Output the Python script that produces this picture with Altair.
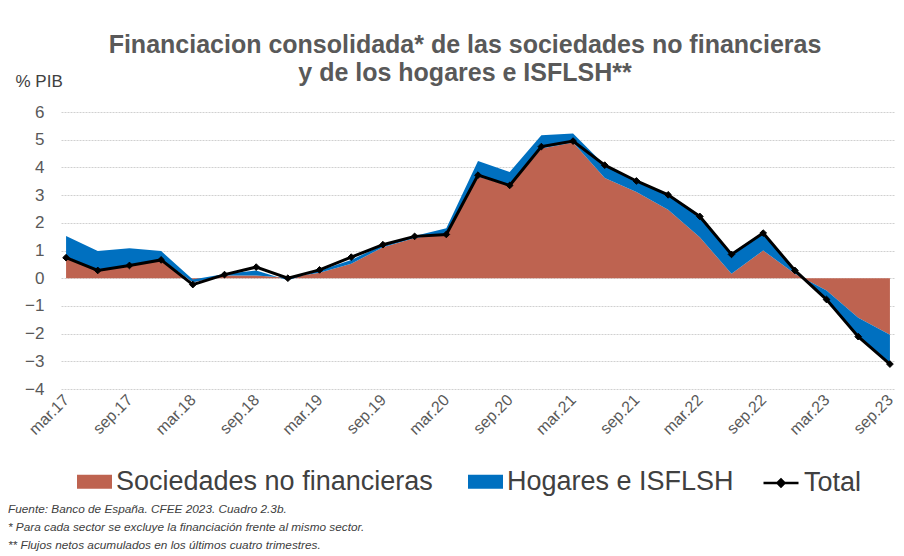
import json
import altair as alt
import pandas as pd

# Quarters (only mar./sep. are labelled on the axis)
quarters = [
    "mar.17", "jun.17", "sep.17", "dic.17",
    "mar.18", "jun.18", "sep.18", "dic.18",
    "mar.19", "jun.19", "sep.19", "dic.19",
    "mar.20", "jun.20", "sep.20", "dic.20",
    "mar.21", "jun.21", "sep.21", "dic.21",
    "mar.22", "jun.22", "sep.22", "dic.22",
    "mar.23", "jun.23", "sep.23",
]

# % PIB, flujos netos acumulados en cuatro trimestres
sociedades = [
    0.78, 0.30, 0.48, 0.68,
    -0.15, 0.10, 0.10, 0.02,
    0.20, 0.52, 1.12, 1.45,
    1.60, 3.67, 3.33, 4.68,
    4.90, 3.62, 3.11, 2.47,
    1.48, 0.16, 1.00, 0.16,
    -0.44, -1.43, -2.04,
]
hogares = [
    0.74, 0.68, 0.60, 0.30,
    0.10, 0.05, 0.18, -0.09,
    0.08, 0.14, 0.08, 0.07,
    0.20, 0.56, 0.50, 0.48,
    0.32, 0.46, 0.42, 0.57,
    0.79, 0.74, 0.66, 0.14,
    -0.31, -0.65, -1.01,
]
total = [
    0.74, 0.28, 0.46, 0.66,
    -0.23, 0.13, 0.40, 0.00,
    0.30, 0.76, 1.21, 1.51,
    1.58, 3.72, 3.35, 4.75,
    4.95, 4.08, 3.51, 3.01,
    2.23, 0.86, 1.63, 0.28,
    -0.77, -2.11, -3.10,
]

series_names = ["Sociedades no financieras", "Hogares e ISFLSH"]
series_colors = ["#BE6350", "#0070C0"]
title_lines = [
    "Financiacion consolidada* de las sociedades no financieras",
    "y de los hogares e ISFLSH**",
]
footnotes = [
    "Fuente: Banco de España. CFEE 2023. Cuadro 2.3b.",
    "* Para cada sector se excluye la financiación frente al mismo sector.",
    "** Flujos netos acumulados en los últimos cuatro trimestres.",
]

df = pd.DataFrame({
    "idx": list(range(len(quarters))),
    "trimestre": quarters,
    "soc": sociedades,
    "hog": hogares,
    "total": total,
})

FONT = "Liberation Sans"
label_expr = f"{json.dumps(quarters)}[round(datum.value)]"

x_enc = alt.X(
    "idx:Q",
    scale=alt.Scale(domain=[-0.16, len(quarters) - 1 + 0.16], nice=False, zero=False),
    axis=alt.Axis(
        values=list(range(0, len(quarters), 2)),
        labelExpr=label_expr,
        labelAngle=-45,
        labelAlign="right",
        labelBaseline="middle",
        labelFontSize=16,
        labelPadding=8,
        grid=False,
        domain=False,
        ticks=False,
        title=None,
    ),
)

y_axis = alt.Axis(
    values=list(range(-4, 7)),
    labelFontSize=17,
    labelPadding=17,
    domain=False,
    ticks=False,
    grid=True,
    gridColor="#D0D0D0",
    gridDash=[2, 1],
    gridWidth=1,
    title="% PIB",
    titleAngle=0,
    titleFontSize=17,
    titleFontWeight="normal",
    titleColor="#404040",
    titleAlign="left",
    titleBaseline="middle",
    titleX=-46,
    titleY=-31,
)
y_scale = alt.Scale(domain=[-4, 6], nice=False, zero=False)

LEGEND_LABELS = dict(labelFontSize=27, labelFont=FONT, labelColor="#404040",
                     labelLimit=500, labelOffset=4)

fill_scale = alt.Scale(domain=series_names, range=series_colors)
fill_legend = alt.Legend(
    title=None, orient="none", legendX=16, legendY=352, direction="horizontal",
    symbolType="M-1,-0.4H1V0.4H-1Z",
    symbolSize=1225, symbolStrokeWidth=0, columnPadding=35,
    **LEGEND_LABELS,
)

base = alt.Chart(df)

area_soc = base.transform_calculate(
    serie=f"'{series_names[0]}'", cero="0"
).mark_area(opacity=1, interpolate="linear").encode(
    x=x_enc,
    y=alt.Y("soc:Q", scale=y_scale, axis=y_axis),
    y2="cero:Q",
    fill=alt.Fill("serie:N", scale=fill_scale, legend=fill_legend),
)

area_hog = base.transform_calculate(
    serie=f"'{series_names[1]}'", tope="datum.soc + datum.hog"
).mark_area(opacity=1, interpolate="linear").encode(
    x=x_enc,
    y=alt.Y("tope:Q", scale=y_scale, axis=y_axis),
    y2="soc:Q",
    fill=alt.Fill("serie:N", scale=fill_scale, legend=fill_legend),
)

line_total = base.transform_calculate(
    serie2="'Total'"
).mark_line(
    strokeWidth=3,
    point=alt.OverlayMarkDef(shape="diamond", size=45, filled=True, fill="black", stroke="black", strokeWidth=1),
).encode(
    x=x_enc,
    y=alt.Y("total:Q", scale=y_scale, axis=y_axis),
    stroke=alt.Stroke(
        "serie2:N",
        scale=alt.Scale(domain=["Total"], range=["black"]),
        legend=alt.Legend(
            title=None, orient="none", legendX=701, legendY=352, direction="horizontal",
            symbolType="M-1,0H1M-0.2,0L0,-0.2L0.2,0L0,0.2Z",
            symbolSize=1225, symbolStrokeWidth=2.5,
            symbolFillColor="black", symbolStrokeColor="black",
            **LEGEND_LABELS,
        ),
    ),
)

inner = alt.layer(area_soc, area_hog, line_total).properties(
    width=834,
    height=277,
    title=alt.TitleParams(
        text=title_lines,
        font=FONT,
        fontSize=25,
        fontWeight="bold",
        color="#595959",
        lineHeight=28,
        anchor="middle",
        offset=-14,
        dx=-13,
    ),
)

chart = alt.vconcat(inner).properties(
    title=alt.TitleParams(
        text=footnotes,
        orient="bottom",
        anchor="start",
        font=FONT,
        fontSize=11.8,
        fontStyle="italic",
        fontWeight="normal",
        color="#404040",
        lineHeight=18,
        offset=8,
        dx=-7,
    ),
    background="white",
    padding={"left": 0, "top": 25, "right": 0, "bottom": 0},
).configure_view(stroke=None).configure_axis(
    labelFont=FONT,
    titleFont=FONT,
    labelColor="#595959",
    domain=False,
    ticks=False,
).configure_legend(
    labelFont=FONT,
    labelFontSize=27,
    labelColor="#404040",
    labelLimit=500,
    labelOffset=4,
    padding=0,
)

chart.save("out.html", embed_options={"renderer": "svg", "actions": False})
